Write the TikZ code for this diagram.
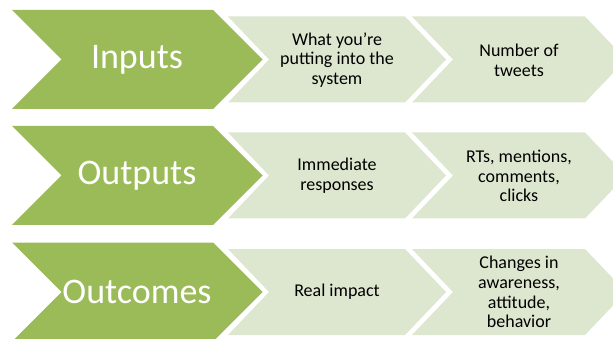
\documentclass[tikz,border=0pt]{standalone}
\usepackage{fontspec}
\setmainfont{Carlito}
\begin{document}
\begin{tikzpicture}[x=1pt,y=-1pt,
  greenfill/.style={fill={rgb,255:red,155;green,187;blue,89}},
  lightfill/.style={fill={rgb,255:red,221;green,231;blue,207}},
  bigtext/.style={text=white,font=\fontsize{36}{40}\selectfont,inner sep=0pt},
  smalltext/.style={text=black,font=\fontsize{18}{19.7}\selectfont,align=center,inner sep=0pt}]
\useasboundingbox (0,0) rectangle (613,339);
\clip (0,0) rectangle (613,339);
\newcommand\mychev[6]{%
  \fill[#6] (#1,#3-#4) -- (#2,#3-#4) -- (#2+#5,#3) -- (#2,#3+#4) -- (#1,#3+#4) -- (#1+#5,#3) -- cycle;}
% rows
\foreach \my in {59.5,175.5,292}{
  \mychev{12}{213}{\my}{49.5}{49.5}{greenfill}
  \mychev{228}{405}{\my}{43}{41}{lightfill}
  \mychev{412}{585}{\my}{43}{41}{lightfill}
}
% row 1
\node[bigtext] (in) at (137,59.5) {Inputs};
\node[smalltext] (in1) at (337,60) {What you’re\\putting into the\\system};
\node[smalltext] (in2) at (519,60) {Number of\\tweets};
% row 2
\node[bigtext] (out) at (137,175.5) {Outputs};
\node[smalltext] (out1) at (337,176) {Immediate\\responses};
\node[smalltext] (out2) at (519,176) {RTs, mentions,\\comments,\\clicks};
% row 3
\node[bigtext] (oc) at (137,292) {Outcomes};
\node[smalltext] (oc1) at (337,292) {Real impact};
\node[smalltext] (oc2) at (519,292) {Changes in\\awareness,\\attitude,\\behavior};
\end{tikzpicture}
\end{document}
